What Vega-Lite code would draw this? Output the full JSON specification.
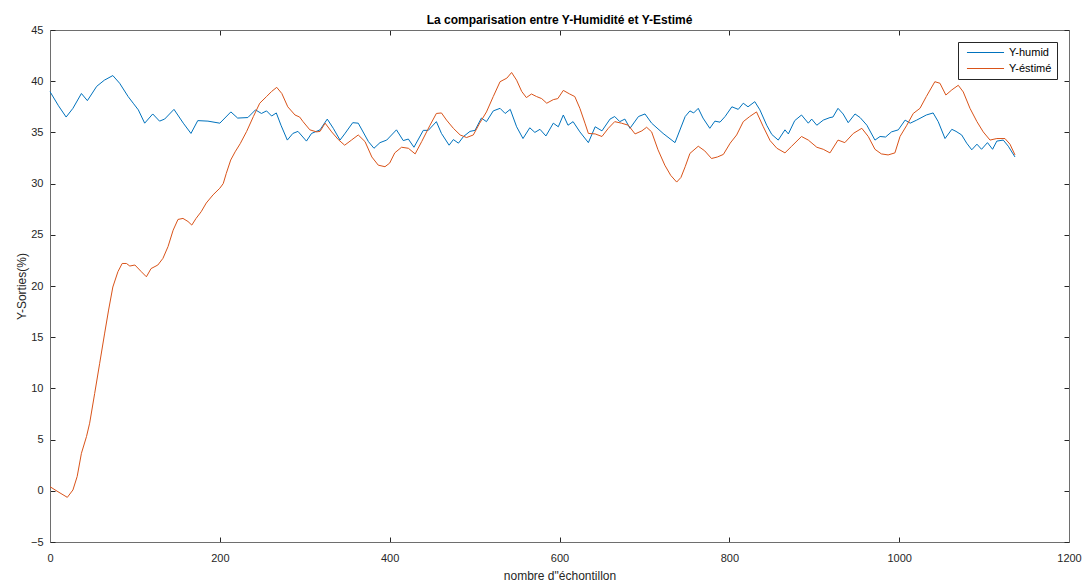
{
  "$schema": "https://vega.github.io/schema/vega-lite/v6.json",
  "width": 1019,
  "height": 512,
  "autosize": {"type": "none"},
  "padding": {"left": 50, "top": 30, "right": 20, "bottom": 41},
  "background": "white",
  "title": {"text": "La comparisation entre Y-Humidité et Y-Estimé", "font": "Liberation Sans", "fontSize": 12, "fontWeight": "bold", "color": "#000000", "anchor": "middle", "offset": -3},
  "config": {
    "view": {"stroke": null},
    "font": "Liberation Sans"
  },
  "data": {"values": [
    {"n":0,"y":38.98,"s":"Y-humid"},{"n":10,"y":37.6,"s":"Y-humid"},{"n":19,"y":36.5,"s":"Y-humid"},{"n":27,"y":37.35,"s":"Y-humid"},{"n":37,"y":38.8,"s":"Y-humid"},{"n":44,"y":38.1,"s":"Y-humid"},{"n":55,"y":39.5,"s":"Y-humid"},{"n":64,"y":40.1,"s":"Y-humid"},{"n":74,"y":40.55,"s":"Y-humid"},{"n":82,"y":39.8,"s":"Y-humid"},{"n":92,"y":38.5,"s":"Y-humid"},{"n":98,"y":37.85,"s":"Y-humid"},{"n":104,"y":37.2,"s":"Y-humid"},{"n":111.5,"y":35.9,"s":"Y-humid"},{"n":121,"y":36.8,"s":"Y-humid"},{"n":129,"y":36.1,"s":"Y-humid"},{"n":135,"y":36.3,"s":"Y-humid"},{"n":146,"y":37.25,"s":"Y-humid"},{"n":157,"y":35.9,"s":"Y-humid"},{"n":166,"y":34.9,"s":"Y-humid"},{"n":174,"y":36.15,"s":"Y-humid"},{"n":186,"y":36.1,"s":"Y-humid"},{"n":200,"y":35.9,"s":"Y-humid"},{"n":213,"y":37.0,"s":"Y-humid"},{"n":221,"y":36.4,"s":"Y-humid"},{"n":233,"y":36.45,"s":"Y-humid"},{"n":242,"y":37.2,"s":"Y-humid"},{"n":249,"y":36.85,"s":"Y-humid"},{"n":255,"y":37.1,"s":"Y-humid"},{"n":261,"y":36.6,"s":"Y-humid"},{"n":266.5,"y":36.9,"s":"Y-humid"},{"n":272,"y":35.7,"s":"Y-humid"},{"n":279.5,"y":34.25,"s":"Y-humid"},{"n":286,"y":34.9,"s":"Y-humid"},{"n":292,"y":35.1,"s":"Y-humid"},{"n":302,"y":34.15,"s":"Y-humid"},{"n":308,"y":34.9,"s":"Y-humid"},{"n":318,"y":35.25,"s":"Y-humid"},{"n":326.5,"y":36.3,"s":"Y-humid"},{"n":333.6,"y":35.4,"s":"Y-humid"},{"n":341.5,"y":34.25,"s":"Y-humid"},{"n":347,"y":34.85,"s":"Y-humid"},{"n":356.5,"y":35.95,"s":"Y-humid"},{"n":363,"y":35.9,"s":"Y-humid"},{"n":375,"y":34.1,"s":"Y-humid"},{"n":381.5,"y":33.45,"s":"Y-humid"},{"n":388.6,"y":34.0,"s":"Y-humid"},{"n":396.5,"y":34.25,"s":"Y-humid"},{"n":408,"y":35.25,"s":"Y-humid"},{"n":416,"y":34.2,"s":"Y-humid"},{"n":422,"y":34.35,"s":"Y-humid"},{"n":428.6,"y":33.55,"s":"Y-humid"},{"n":439.6,"y":35.2,"s":"Y-humid"},{"n":445.5,"y":35.2,"s":"Y-humid"},{"n":455,"y":36.05,"s":"Y-humid"},{"n":461,"y":34.9,"s":"Y-humid"},{"n":470,"y":33.75,"s":"Y-humid"},{"n":475,"y":34.3,"s":"Y-humid"},{"n":481,"y":33.95,"s":"Y-humid"},{"n":487,"y":34.6,"s":"Y-humid"},{"n":494.6,"y":35.1,"s":"Y-humid"},{"n":500.5,"y":35.2,"s":"Y-humid"},{"n":508,"y":36.4,"s":"Y-humid"},{"n":514,"y":36.05,"s":"Y-humid"},{"n":522,"y":37.1,"s":"Y-humid"},{"n":530,"y":37.35,"s":"Y-humid"},{"n":536,"y":36.85,"s":"Y-humid"},{"n":542,"y":37.25,"s":"Y-humid"},{"n":549.5,"y":35.55,"s":"Y-humid"},{"n":557,"y":34.4,"s":"Y-humid"},{"n":565,"y":35.45,"s":"Y-humid"},{"n":571,"y":35.0,"s":"Y-humid"},{"n":577,"y":35.3,"s":"Y-humid"},{"n":584,"y":34.65,"s":"Y-humid"},{"n":592.7,"y":35.9,"s":"Y-humid"},{"n":598.6,"y":35.55,"s":"Y-humid"},{"n":604.5,"y":36.7,"s":"Y-humid"},{"n":610,"y":35.7,"s":"Y-humid"},{"n":616,"y":36.05,"s":"Y-humid"},{"n":624,"y":35.05,"s":"Y-humid"},{"n":634,"y":34.0,"s":"Y-humid"},{"n":642,"y":35.55,"s":"Y-humid"},{"n":650,"y":35.15,"s":"Y-humid"},{"n":659.5,"y":36.3,"s":"Y-humid"},{"n":665,"y":36.55,"s":"Y-humid"},{"n":671,"y":36.05,"s":"Y-humid"},{"n":677,"y":36.3,"s":"Y-humid"},{"n":683,"y":35.4,"s":"Y-humid"},{"n":693,"y":36.55,"s":"Y-humid"},{"n":700.7,"y":36.8,"s":"Y-humid"},{"n":708.5,"y":35.9,"s":"Y-humid"},{"n":722,"y":34.9,"s":"Y-humid"},{"n":736,"y":34.0,"s":"Y-humid"},{"n":748,"y":36.55,"s":"Y-humid"},{"n":753.6,"y":37.1,"s":"Y-humid"},{"n":758,"y":36.9,"s":"Y-humid"},{"n":763.4,"y":37.35,"s":"Y-humid"},{"n":769,"y":36.4,"s":"Y-humid"},{"n":777,"y":35.4,"s":"Y-humid"},{"n":783,"y":36.1,"s":"Y-humid"},{"n":789,"y":36.0,"s":"Y-humid"},{"n":795,"y":36.55,"s":"Y-humid"},{"n":803,"y":37.5,"s":"Y-humid"},{"n":810.5,"y":37.25,"s":"Y-humid"},{"n":816.4,"y":37.85,"s":"Y-humid"},{"n":822,"y":37.5,"s":"Y-humid"},{"n":830,"y":38.0,"s":"Y-humid"},{"n":836,"y":37.2,"s":"Y-humid"},{"n":844,"y":35.7,"s":"Y-humid"},{"n":850,"y":34.8,"s":"Y-humid"},{"n":857.6,"y":34.25,"s":"Y-humid"},{"n":865.5,"y":35.25,"s":"Y-humid"},{"n":869.5,"y":34.85,"s":"Y-humid"},{"n":877,"y":36.15,"s":"Y-humid"},{"n":885,"y":36.7,"s":"Y-humid"},{"n":893,"y":35.9,"s":"Y-humid"},{"n":897,"y":36.3,"s":"Y-humid"},{"n":903,"y":35.7,"s":"Y-humid"},{"n":910.6,"y":36.2,"s":"Y-humid"},{"n":918.5,"y":36.45,"s":"Y-humid"},{"n":922,"y":36.5,"s":"Y-humid"},{"n":928,"y":37.35,"s":"Y-humid"},{"n":934,"y":36.8,"s":"Y-humid"},{"n":940,"y":35.95,"s":"Y-humid"},{"n":948,"y":36.8,"s":"Y-humid"},{"n":954,"y":36.45,"s":"Y-humid"},{"n":962,"y":35.7,"s":"Y-humid"},{"n":971.5,"y":34.25,"s":"Y-humid"},{"n":977.5,"y":34.6,"s":"Y-humid"},{"n":984,"y":34.55,"s":"Y-humid"},{"n":991,"y":35.05,"s":"Y-humid"},{"n":999,"y":35.25,"s":"Y-humid"},{"n":1007,"y":36.2,"s":"Y-humid"},{"n":1013,"y":35.9,"s":"Y-humid"},{"n":1020.6,"y":36.2,"s":"Y-humid"},{"n":1032,"y":36.7,"s":"Y-humid"},{"n":1040,"y":36.9,"s":"Y-humid"},{"n":1046,"y":36.05,"s":"Y-humid"},{"n":1054,"y":34.4,"s":"Y-humid"},{"n":1062,"y":35.3,"s":"Y-humid"},{"n":1067,"y":35.1,"s":"Y-humid"},{"n":1073.6,"y":34.75,"s":"Y-humid"},{"n":1079.5,"y":33.95,"s":"Y-humid"},{"n":1085.5,"y":33.3,"s":"Y-humid"},{"n":1091.6,"y":33.85,"s":"Y-humid"},{"n":1097,"y":33.35,"s":"Y-humid"},{"n":1104,"y":34.0,"s":"Y-humid"},{"n":1110,"y":33.35,"s":"Y-humid"},{"n":1115,"y":34.15,"s":"Y-humid"},{"n":1122.6,"y":34.25,"s":"Y-humid"},{"n":1128.5,"y":33.65,"s":"Y-humid"},{"n":1136.4,"y":32.6,"s":"Y-humid"},
    {"n":0,"y":0.4,"s":"Y-éstimé"},{"n":9.4,"y":-0.09,"s":"Y-éstimé"},{"n":20.4,"y":-0.64,"s":"Y-éstimé"},{"n":27,"y":0.08,"s":"Y-éstimé"},{"n":32,"y":1.4,"s":"Y-éstimé"},{"n":37,"y":3.66,"s":"Y-éstimé"},{"n":43,"y":5.3,"s":"Y-éstimé"},{"n":46.7,"y":6.6,"s":"Y-éstimé"},{"n":52.6,"y":9.5,"s":"Y-éstimé"},{"n":58.5,"y":12.45,"s":"Y-éstimé"},{"n":64.4,"y":15.4,"s":"Y-éstimé"},{"n":69,"y":17.65,"s":"Y-éstimé"},{"n":74,"y":19.9,"s":"Y-éstimé"},{"n":80,"y":21.4,"s":"Y-éstimé"},{"n":85,"y":22.2,"s":"Y-éstimé"},{"n":90,"y":22.2,"s":"Y-éstimé"},{"n":94,"y":21.95,"s":"Y-éstimé"},{"n":100,"y":22.05,"s":"Y-éstimé"},{"n":107.5,"y":21.4,"s":"Y-éstimé"},{"n":113.5,"y":20.9,"s":"Y-éstimé"},{"n":119,"y":21.7,"s":"Y-éstimé"},{"n":127,"y":22.05,"s":"Y-éstimé"},{"n":133,"y":22.7,"s":"Y-éstimé"},{"n":139,"y":23.85,"s":"Y-éstimé"},{"n":145,"y":25.45,"s":"Y-éstimé"},{"n":150.7,"y":26.5,"s":"Y-éstimé"},{"n":156.6,"y":26.6,"s":"Y-éstimé"},{"n":162.5,"y":26.3,"s":"Y-éstimé"},{"n":167,"y":25.95,"s":"Y-éstimé"},{"n":172,"y":26.6,"s":"Y-éstimé"},{"n":178,"y":27.25,"s":"Y-éstimé"},{"n":184,"y":28.1,"s":"Y-éstimé"},{"n":192,"y":28.9,"s":"Y-éstimé"},{"n":200,"y":29.55,"s":"Y-éstimé"},{"n":204,"y":30.0,"s":"Y-éstimé"},{"n":207.6,"y":31.0,"s":"Y-éstimé"},{"n":212.8,"y":32.3,"s":"Y-éstimé"},{"n":218,"y":33.1,"s":"Y-éstimé"},{"n":224,"y":33.9,"s":"Y-éstimé"},{"n":231.6,"y":35.1,"s":"Y-éstimé"},{"n":239.5,"y":36.55,"s":"Y-éstimé"},{"n":247,"y":37.85,"s":"Y-éstimé"},{"n":255,"y":38.5,"s":"Y-éstimé"},{"n":261,"y":39.0,"s":"Y-éstimé"},{"n":267,"y":39.4,"s":"Y-éstimé"},{"n":273,"y":38.8,"s":"Y-éstimé"},{"n":280,"y":37.5,"s":"Y-éstimé"},{"n":288.5,"y":36.7,"s":"Y-éstimé"},{"n":294,"y":36.5,"s":"Y-éstimé"},{"n":298,"y":36.05,"s":"Y-éstimé"},{"n":306,"y":35.25,"s":"Y-éstimé"},{"n":314,"y":35.05,"s":"Y-éstimé"},{"n":318,"y":35.1,"s":"Y-éstimé"},{"n":324,"y":35.9,"s":"Y-éstimé"},{"n":331.7,"y":35.05,"s":"Y-éstimé"},{"n":339.5,"y":34.3,"s":"Y-éstimé"},{"n":347,"y":33.75,"s":"Y-éstimé"},{"n":355,"y":34.25,"s":"Y-éstimé"},{"n":363,"y":34.75,"s":"Y-éstimé"},{"n":371,"y":34.1,"s":"Y-éstimé"},{"n":379,"y":32.6,"s":"Y-éstimé"},{"n":386.6,"y":31.8,"s":"Y-éstimé"},{"n":394.5,"y":31.65,"s":"Y-éstimé"},{"n":400,"y":32.0,"s":"Y-éstimé"},{"n":406,"y":33.0,"s":"Y-éstimé"},{"n":414,"y":33.55,"s":"Y-éstimé"},{"n":422,"y":33.45,"s":"Y-éstimé"},{"n":430,"y":32.9,"s":"Y-éstimé"},{"n":437.7,"y":34.1,"s":"Y-éstimé"},{"n":447.5,"y":35.7,"s":"Y-éstimé"},{"n":455,"y":36.85,"s":"Y-éstimé"},{"n":461,"y":36.9,"s":"Y-éstimé"},{"n":467,"y":36.2,"s":"Y-éstimé"},{"n":475,"y":35.4,"s":"Y-éstimé"},{"n":483,"y":34.75,"s":"Y-éstimé"},{"n":490.6,"y":34.5,"s":"Y-éstimé"},{"n":498.5,"y":34.75,"s":"Y-éstimé"},{"n":506,"y":35.9,"s":"Y-éstimé"},{"n":514,"y":37.0,"s":"Y-éstimé"},{"n":522,"y":38.5,"s":"Y-éstimé"},{"n":530,"y":39.95,"s":"Y-éstimé"},{"n":538,"y":40.3,"s":"Y-éstimé"},{"n":543.6,"y":40.85,"s":"Y-éstimé"},{"n":549.5,"y":40.1,"s":"Y-éstimé"},{"n":555.5,"y":39.0,"s":"Y-éstimé"},{"n":561,"y":38.4,"s":"Y-éstimé"},{"n":567,"y":38.75,"s":"Y-éstimé"},{"n":573,"y":38.5,"s":"Y-éstimé"},{"n":579,"y":38.3,"s":"Y-éstimé"},{"n":585,"y":37.85,"s":"Y-éstimé"},{"n":592.7,"y":38.2,"s":"Y-éstimé"},{"n":598,"y":38.3,"s":"Y-éstimé"},{"n":604.5,"y":39.1,"s":"Y-éstimé"},{"n":612,"y":38.75,"s":"Y-éstimé"},{"n":618,"y":38.5,"s":"Y-éstimé"},{"n":624,"y":37.35,"s":"Y-éstimé"},{"n":630,"y":35.9,"s":"Y-éstimé"},{"n":634,"y":34.9,"s":"Y-éstimé"},{"n":642,"y":34.85,"s":"Y-éstimé"},{"n":650,"y":34.6,"s":"Y-éstimé"},{"n":657.5,"y":35.4,"s":"Y-éstimé"},{"n":665,"y":36.05,"s":"Y-éstimé"},{"n":673,"y":35.9,"s":"Y-éstimé"},{"n":681,"y":35.7,"s":"Y-éstimé"},{"n":689,"y":34.85,"s":"Y-éstimé"},{"n":697,"y":35.15,"s":"Y-éstimé"},{"n":702.6,"y":35.5,"s":"Y-éstimé"},{"n":708.5,"y":35.05,"s":"Y-éstimé"},{"n":716,"y":33.3,"s":"Y-éstimé"},{"n":724,"y":31.8,"s":"Y-éstimé"},{"n":731,"y":30.8,"s":"Y-éstimé"},{"n":738,"y":30.15,"s":"Y-éstimé"},{"n":743,"y":30.6,"s":"Y-éstimé"},{"n":748,"y":31.65,"s":"Y-éstimé"},{"n":753.6,"y":32.95,"s":"Y-éstimé"},{"n":763.4,"y":33.65,"s":"Y-éstimé"},{"n":771,"y":33.2,"s":"Y-éstimé"},{"n":779,"y":32.45,"s":"Y-éstimé"},{"n":786,"y":32.6,"s":"Y-éstimé"},{"n":793,"y":32.85,"s":"Y-éstimé"},{"n":801,"y":33.95,"s":"Y-éstimé"},{"n":808.6,"y":34.75,"s":"Y-éstimé"},{"n":816.4,"y":36.05,"s":"Y-éstimé"},{"n":824,"y":36.55,"s":"Y-éstimé"},{"n":832,"y":37.0,"s":"Y-éstimé"},{"n":840,"y":35.55,"s":"Y-éstimé"},{"n":848,"y":34.2,"s":"Y-éstimé"},{"n":856,"y":33.45,"s":"Y-éstimé"},{"n":865.5,"y":33.0,"s":"Y-éstimé"},{"n":873.4,"y":33.65,"s":"Y-éstimé"},{"n":885,"y":34.6,"s":"Y-éstimé"},{"n":893,"y":34.25,"s":"Y-éstimé"},{"n":903,"y":33.55,"s":"Y-éstimé"},{"n":910.6,"y":33.35,"s":"Y-éstimé"},{"n":918.5,"y":33.0,"s":"Y-éstimé"},{"n":928,"y":34.25,"s":"Y-éstimé"},{"n":936,"y":34.0,"s":"Y-éstimé"},{"n":946,"y":34.9,"s":"Y-éstimé"},{"n":956,"y":35.4,"s":"Y-éstimé"},{"n":963.6,"y":34.6,"s":"Y-éstimé"},{"n":971.5,"y":33.35,"s":"Y-éstimé"},{"n":979,"y":32.9,"s":"Y-éstimé"},{"n":987,"y":32.8,"s":"Y-éstimé"},{"n":995,"y":33.0,"s":"Y-éstimé"},{"n":1001,"y":34.6,"s":"Y-éstimé"},{"n":1009,"y":35.7,"s":"Y-éstimé"},{"n":1016.6,"y":36.85,"s":"Y-éstimé"},{"n":1024.5,"y":37.35,"s":"Y-éstimé"},{"n":1032,"y":38.5,"s":"Y-éstimé"},{"n":1042,"y":39.95,"s":"Y-éstimé"},{"n":1048,"y":39.8,"s":"Y-éstimé"},{"n":1055,"y":38.65,"s":"Y-éstimé"},{"n":1062,"y":39.15,"s":"Y-éstimé"},{"n":1069.6,"y":39.6,"s":"Y-éstimé"},{"n":1075.5,"y":38.95,"s":"Y-éstimé"},{"n":1083.4,"y":37.35,"s":"Y-éstimé"},{"n":1091.6,"y":36.05,"s":"Y-éstimé"},{"n":1099,"y":35.05,"s":"Y-éstimé"},{"n":1107,"y":34.25,"s":"Y-éstimé"},{"n":1115,"y":34.4,"s":"Y-éstimé"},{"n":1124.6,"y":34.4,"s":"Y-éstimé"},{"n":1130.5,"y":33.85,"s":"Y-éstimé"},{"n":1136.4,"y":32.8,"s":"Y-éstimé"}
  ]},
  "resolve": {"axis": {"x": "independent", "y": "independent"}},
  "layer": [
    {
      "mark": {"type": "line", "strokeWidth": 1, "interpolate": "linear"},
      "encoding": {
        "x": {"field": "n", "type": "quantitative", "scale": {"domain": [0, 1200], "nice": false, "zero": false},
          "axis": {"orient": "bottom", "values": [0,200,400,600,800,1000,1200], "format": "d", "title": "nombre d\"échontillon", "titleFontSize": 12, "titleFontWeight": "normal", "titleColor": "#262626", "titlePadding": 7, "labelFontSize": 11, "labelColor": "#262626", "labelPadding": 15, "tickSize": -5, "tickColor": "#262626", "domainColor": "#6e6e6e", "grid": false, "labelFlush": false}},
        "y": {"field": "y", "type": "quantitative", "scale": {"domain": [-5, 45], "nice": false, "zero": false},
          "axis": {"orient": "left", "values": [-5,0,5,10,15,20,25,30,35,40,45], "title": "Y-Sorties(%)", "titleFontSize": 12, "titleFontWeight": "normal", "titleColor": "#262626", "titlePadding": 2, "labelFontSize": 11, "labelColor": "#262626", "labelPadding": 12, "tickSize": -5, "tickColor": "#262626", "domainColor": "#6e6e6e", "grid": false}},
        "color": {"field": "s", "type": "nominal", "sort": null,
          "scale": {"domain": ["Y-humid", "Y-éstimé"], "range": ["#0072BD", "#D95319"]},
          "legend": {"title": null, "orient": "top-right", "offset": 12, "direction": "vertical", "symbolType": "M-5,0H5", "symbolSize": 55, "symbolOffset": 17, "symbolStrokeWidth": 1, "symbolFillColor": "transparent", "labelFontSize": 11, "labelColor": "#000000", "labelOffset": 18, "strokeColor": "#262626", "fillColor": "white", "padding": 5, "rowPadding": 4}}
      }
    },
    {
      "mark": {"type": "line", "opacity": 0},
      "encoding": {
        "x": {"field": "n", "type": "quantitative", "axis": {"orient": "top", "values": [0,200,400,600,800,1000,1200], "labels": false, "title": null, "tickSize": -5, "tickColor": "#262626", "domainColor": "#6e6e6e", "grid": false}},
        "y": {"field": "y", "type": "quantitative", "axis": {"orient": "right", "values": [-5,0,5,10,15,20,25,30,35,40,45], "labels": false, "title": null, "tickSize": -5, "tickColor": "#262626", "domainColor": "#6e6e6e", "grid": false}},
        "detail": {"field": "s"}
      }
    }
  ]
}
